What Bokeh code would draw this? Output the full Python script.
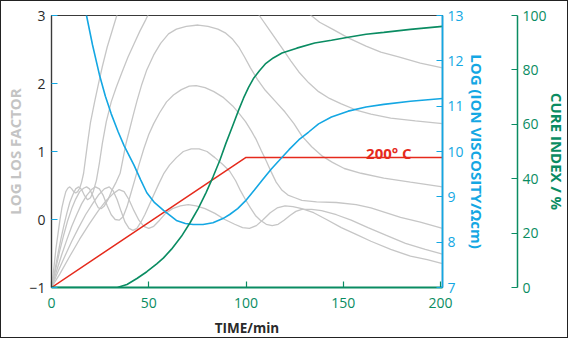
from bokeh.plotting import figure
from bokeh.models import Range1d, LinearAxis, FixedTicker, Label
from bokeh.embed import file_html
from bokeh.resources import INLINE

# ---------------- data ----------------
# log loss factor curves, one per measuring frequency
T1 = [0, 1.27, 2.28, 3.30, 4.31, 5.33, 6.35, 7.36, 8.38, 9.39, 10.41, 11.42, 12.44, 13.45, 14.47, 15.48,
      16.50, 17.51, 18.53, 20.05, 22.08, 24.11, 26.14, 28.68, 31.22, 33.25, 35.28, 40, 55, 75, 95, 115,
      125, 132.23, 137.82, 144.42, 152.54, 161.68, 169.29, 178.43, 189.59, 201]
L1 = [-1, -0.70, -0.43, -0.22, -0.01, 0.17, 0.30, 0.41, 0.46, 0.48, 0.45, 0.41, 0.39, 0.41, 0.46, 0.55,
      0.68, 0.90, 1.12, 1.43, 1.72, 1.99, 2.25, 2.54, 2.78, 2.97, 3.15, 3.6, 4.2, 4.5, 4.3, 3.7,
      3.3, 3.03, 2.90, 2.80, 2.67, 2.55, 2.46, 2.39, 2.30, 2.23]

T2 = [0, 1.78, 3.30, 4.82, 6.35, 7.87, 9.39, 10.91, 12.44, 13.96, 15.48, 17.01, 18.53, 20.05, 21.57,
      23.10, 24.62, 26.14, 28.17, 30.71, 33.25, 36.29, 39.34, 42.39, 45.43, 48.48, 50.51, 60, 75, 90,
      100, 106.85, 112.44, 118.53, 123.10, 127.16, 132.23, 137.31, 142.89, 148.98, 156.60, 164.21,
      174.37, 187.06, 201]
L2 = [-1, -0.74, -0.51, -0.29, -0.09, 0.09, 0.25, 0.36, 0.45, 0.48, 0.44, 0.35, 0.29, 0.32, 0.42,
      0.58, 0.83, 1.12, 1.44, 1.73, 1.94, 2.17, 2.39, 2.58, 2.77, 2.94, 3.06, 3.5, 3.8, 3.7,
      3.3, 3.0, 2.77, 2.52, 2.33, 2.17, 2.01, 1.88, 1.78, 1.70, 1.61, 1.55,
      1.49, 1.45, 1.41]

T3 = [0, 2.28, 4.31, 6.35, 8.38, 10.41, 12.44, 14.47, 16.50, 18.02, 19.54, 21.07, 22.59, 24.11, 25.63,
      27.16, 29.19, 31.22, 33.25, 35.28, 36.80, 38.32, 39.85, 41.88, 43.91, 46.45, 48.98, 52.54, 56.09,
      60.15, 64.21, 69.29, 75.38, 80.46, 85.53, 89.59, 93.15, 96.19, 99.24, 102.28, 105.84, 109.90,
      114.97, 120.05, 124.62, 128.68, 133.76, 138.83, 144.42, 150.51, 159.14, 170.81, 184.52, 201]
L3 = [-1, -0.71, -0.45, -0.22, -0.01, 0.16, 0.30, 0.41, 0.46, 0.48, 0.45, 0.36, 0.25, 0.17, 0.16,
      0.20, 0.30, 0.44, 0.55, 0.68, 0.90, 1.12, 1.29, 1.52, 1.74, 1.99, 2.20, 2.42, 2.59,
      2.73, 2.80, 2.84, 2.86, 2.84, 2.80, 2.74, 2.65, 2.54, 2.39, 2.23, 2.06, 1.90,
      1.74, 1.58, 1.41, 1.23, 1.07, 0.94, 0.84, 0.75, 0.68, 0.61, 0.55, 0.48]

T4 = [0, 2.79, 5.33, 7.87, 10.41, 12.94, 15.48, 18.02, 20.56, 22.59, 24.62, 26.65, 28.68, 30.71, 32.74,
      34.77, 36.80, 38.83, 40.86, 42.89, 44.92, 47.46, 50.00, 52.54, 55.58, 59.14, 62.69, 66.75, 70.81,
      74.37, 78.93, 83.50, 88.07, 93.15, 96.70, 99.75, 102.79, 105.33, 107.87, 110.41, 112.94, 115.48,
      118.53, 121.57, 125.13, 128.68, 136.29, 146.45, 156.60, 164.21, 171.83, 179.44, 189.59, 201]
L4 = [-1, -0.74, -0.51, -0.30, -0.10, 0.07, 0.23, 0.35, 0.44, 0.48, 0.45, 0.35, 0.20, 0.07, 0.0,
      -0.01, 0.04, 0.19, 0.39, 0.59, 0.80, 1.04, 1.25, 1.41, 1.57, 1.73, 1.83, 1.91, 1.96,
      1.97, 1.94, 1.88, 1.80, 1.67, 1.55, 1.44, 1.30, 1.17, 1.01, 0.86, 0.70, 0.55,
      0.43, 0.36, 0.32, 0.28, 0.26, 0.25, 0.22, 0.17, 0.10, 0.03, -0.04, -0.13]

T5 = [0, 3.30, 6.85, 10.41, 13.96, 17.51, 21.07, 24.11, 27.16, 29.70, 31.73, 33.76, 35.79, 37.82, 39.85,
      41.88, 43.91, 45.94, 47.97, 50.00, 52.54, 55.08, 57.61, 60.66, 64.21, 67.77, 71.83, 75.89, 79.95,
      84.01, 88.07, 91.62, 94.67, 97.21, 99.75, 102.28, 104.82, 107.36, 110.41, 113.45, 116.50, 119.54,
      122.59, 125.63, 128.68, 133.76, 138.83, 146.45, 154.06, 162.69, 171.83, 181.98, 192.13, 201]
L5 = [-1, -0.77, -0.54, -0.32, -0.12, 0.07, 0.23, 0.36, 0.45, 0.48, 0.42, 0.29, 0.12, -0.04, -0.13,
      -0.16, -0.13, -0.04, 0.07, 0.20, 0.36, 0.52, 0.67, 0.80, 0.91, 1.0, 1.04, 1.04, 1.0,
      0.91, 0.81, 0.71, 0.57, 0.42, 0.29, 0.17, 0.06, -0.01, -0.07, -0.09, -0.07, -0.01,
      0.06, 0.12, 0.15, 0.15, 0.13, 0.07, -0.01, -0.12, -0.23, -0.35, -0.44, -0.51]

T6 = [0, 4.31, 9.39, 14.47, 19.54, 24.11, 28.17, 31.73, 34.77, 37.31, 39.85, 42.39, 44.92, 47.46, 50.00,
      52.54, 55.58, 58.63, 62.18, 66.24, 70.30, 74.37, 78.93, 84.01, 89.09, 94.16, 98.22, 101.78,
      105.33, 108.88, 112.44, 115.99, 120.05, 124.11, 128.68, 134.77, 141.37, 148.98, 156.60, 164.21,
      174.37, 184.52, 193.15, 201]
L6 = [-1, -0.80, -0.54, -0.29, -0.06, 0.13, 0.28, 0.38, 0.44, 0.41, 0.29, 0.13, -0.01, -0.10, -0.13,
      -0.10, -0.01, 0.09, 0.16, 0.20, 0.22, 0.20, 0.16, 0.09, 0.0, -0.07, -0.12, -0.13,
      -0.09, 0.0, 0.10, 0.17, 0.20, 0.19, 0.16, 0.10, 0.0, -0.12, -0.22, -0.32,
      -0.44, -0.54, -0.59, -0.65]

LOSS_TIMES = [T1, T2, T3, T4, T5, T6]
LOSS_VALUES = [L1, L2, L3, L4, L5, L6]

# log ion viscosity (Ohm cm)
VISC_T = [17.0, 18.0, 21.1, 24.6, 27.7, 30.7, 34.3, 37.3, 42.4, 45.9, 49.0, 53.0, 57.6, 64.2, 68.8,
          72.8, 77.9, 83.0, 88.1, 91.6, 95.7, 99.7, 104.3, 108.4, 112.9, 117.0, 122.1, 127.2, 132.2,
          137.3, 143.9, 152.5, 161.7, 170.8, 184.5, 201]
VISC_V = [13.2, 13.0, 12.35, 11.70, 11.22, 10.83, 10.43, 10.13, 9.70, 9.37, 9.09, 8.87, 8.70, 8.48, 8.41,
          8.39, 8.39, 8.43, 8.52, 8.61, 8.74, 8.91, 9.15, 9.37, 9.61, 9.80, 10.04, 10.26, 10.43,
          10.61, 10.76, 10.89, 10.98, 11.04, 11.11, 11.17]

# cure index (%)
CURE_T = [0, 33.8, 38.8, 43.9, 49.0, 54.1, 57.6, 61.7, 66.8, 71.3, 75.4, 79.4, 83.0, 86.5, 89.6, 93.1,
          96.2, 98.7, 101.3, 103.8, 106.9, 109.9, 114.0, 118.5, 126.1, 135.3, 143.9, 152.5, 161.7,
          170.8, 184.5, 201]
CURE_V = [0, 0, 1.1, 3.3, 5.8, 8.7, 10.9, 14.1, 18.8, 23.9, 29.0, 34.8, 40.6, 46.7, 52.9, 59.4,
          65.2, 69.6, 73.6, 76.8, 79.7, 82.2, 84.4, 86.2, 88.0, 89.9, 90.9, 92.0, 93.1,
          93.8, 94.9, 96.0]

# temperature programme (deg C)
TEMP_T = [0, 100, 201]
TEMP_V = [20, 200, 200]
TEMP_LABEL = "200° C"
TEMP_LABEL_T = 161.7

X_TICKS = [0, 50, 100, 150, 200]
LOSS_TICKS = [-1, 0, 1, 2, 3]
VISC_TICKS = [7, 8, 9, 10, 11, 12, 13]
CURE_TICKS = [0, 20, 40, 60, 80, 100]

# ---------------- style ----------------
FONT = "Open Sans"
GRAY = "#c6c6c6"
BLUE = "#14a7e3"
GREEN = "#0a8c62"
RED = "#e52a1c"
DARK = "#2a2a2a"

p = figure(width=568, height=338, x_range=Range1d(0, 201), y_range=Range1d(-1, 3),
           output_backend="svg", toolbar_location=None,
           min_border_left=50, min_border_right=126, min_border_top=14, min_border_bottom=52,
           background_fill_color="white", border_fill_color="white",
           outline_line_color="#3a3a3a", outline_line_width=1.2)
p.styles = {"border": "1px solid #222222"}
p.grid.visible = False
p.extra_y_ranges = {"visc": Range1d(7, 13), "cure": Range1d(0, 100), "temp": Range1d(20, 396.4)}

for tt, vv in zip(LOSS_TIMES, LOSS_VALUES):
    p.line(tt, vv, line_color=GRAY, line_width=1.3)

p.line(TEMP_T, TEMP_V, y_range_name="temp", line_color=RED, line_width=1.5)
p.line(VISC_T, VISC_V, y_range_name="visc", line_color=BLUE, line_width=1.6)
p.line(CURE_T, CURE_V, y_range_name="cure", line_color=GREEN, line_width=1.6)

p.add_layout(Label(x=TEMP_LABEL_T, y=TEMP_V[-1], y_range_name="temp", text=TEMP_LABEL,
                   text_color=RED, text_font=FONT, text_font_size="15px",
                   text_font_style="bold", text_baseline="alphabetic", y_offset=4))


def style_axis(ax, color, label_color, line_color):
    ax.axis_line_color = line_color
    ax.major_tick_line_color = color
    ax.major_tick_in = 6
    ax.major_tick_out = 0
    ax.minor_tick_line_color = None
    ax.major_label_text_font = FONT
    ax.major_label_text_font_size = "14px"
    ax.major_label_text_color = label_color
    ax.axis_label_text_font = FONT
    ax.axis_label_text_font_style = "bold"


# left axis
ly = p.yaxis[0]
ly.ticker = FixedTicker(ticks=LOSS_TICKS)
style_axis(ly, BLUE, DARK, "#3a3a3a")
ly.axis_line_width = 1.2
ly.major_label_standoff = 6
ly.axis_label = "LOG LOS FACTOR"
ly.axis_label_text_color = "#c4c4c4"
ly.axis_label_text_font_size = "15px"
ly.axis_label_standoff = 1

# bottom axis
bx = p.xaxis[0]
bx.ticker = FixedTicker(ticks=X_TICKS)
style_axis(bx, GREEN, GREEN, GREEN)
bx.axis_line_width = 2
bx.major_tick_line_width = 1.2
bx.major_label_standoff = 10
bx.axis_label = "TIME/min"
bx.axis_label_text_color = DARK
bx.axis_label_text_font_size = "13.5px"
bx.axis_label_standoff = 8

# right: ion viscosity axis
va = LinearAxis(y_range_name="visc", ticker=FixedTicker(ticks=VISC_TICKS))
style_axis(va, BLUE, BLUE, BLUE)
va.axis_line_width = 1.8
va.major_tick_line_width = 1.2
va.major_label_standoff = 5
va.axis_label = "LOG (ION VISCOSITY/Ωcm)"
va.axis_label_text_color = BLUE
va.axis_label_text_font_size = "15px"
va.axis_label_standoff = 0
va.axis_label_orientation = "vertical"
p.add_layout(va, "right")

# spacer between the two right axes
sp = LinearAxis(y_range_name="cure", ticker=FixedTicker(ticks=[]))
sp.axis_line_color = None
sp.major_tick_in = 0
sp.major_tick_out = 0
sp.minor_tick_line_color = None
sp.axis_label = "."
sp.axis_label_text_alpha = 0
sp.axis_label_text_font_size = "10px"
sp.axis_label_standoff = 17
p.add_layout(sp, "right")

# right: cure index axis
ca = LinearAxis(y_range_name="cure", ticker=FixedTicker(ticks=CURE_TICKS))
style_axis(ca, GREEN, GREEN, GREEN)
ca.axis_line_width = 1.5
ca.major_tick_line_width = 1.2
ca.major_label_standoff = 5
ca.axis_label = "CURE INDEX / %"
ca.axis_label_text_color = GREEN
ca.axis_label_text_font_size = "15px"
ca.axis_label_standoff = -3
ca.axis_label_orientation = "vertical"
p.add_layout(ca, "right")

open("out.html", "w").write(file_html(p, INLINE))
